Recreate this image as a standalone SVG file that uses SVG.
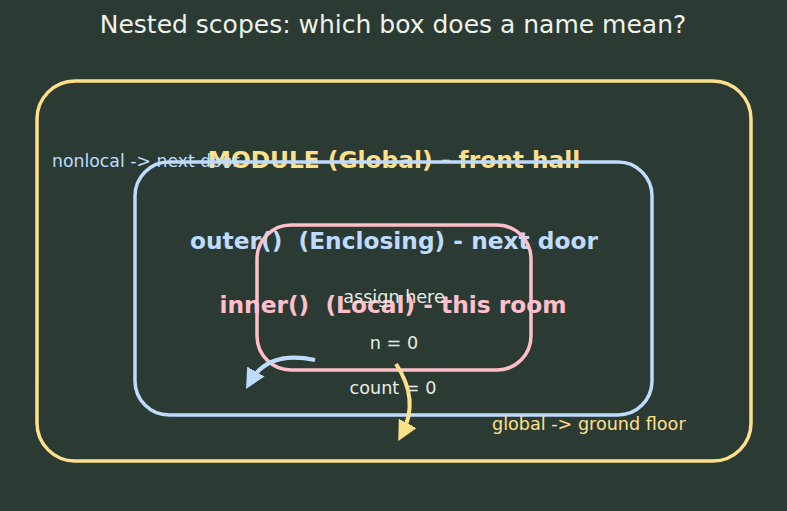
<svg xmlns="http://www.w3.org/2000/svg" width="787" height="511" viewBox="0 0 787 511">
<defs>
<style>
text{font-family:"DejaVu Sans","Liberation Sans",sans-serif;}
.box{fill:none;stroke-width:3.5;}
.h{font-weight:bold;font-size:23.3px;text-anchor:middle;}
.s{font-size:17.6px;fill:#e8ece4;}
.c{text-anchor:middle;}
</style>
<marker id="ab" viewBox="0 0 10 10" refX="6" refY="5" markerWidth="5" markerHeight="5" orient="auto" markerUnits="strokeWidth"><path d="M0,0 L10,5 L0,10 z" fill="#bfdcff"/></marker>
<marker id="ay" viewBox="0 0 10 10" refX="6" refY="5" markerWidth="5" markerHeight="5" orient="auto" markerUnits="strokeWidth"><path d="M0,0 L10,5 L0,10 z" fill="#ffe08a"/></marker>
</defs>
<rect width="787" height="511" fill="#2b3b34"/>
<text x="393" y="33" font-size="25" fill="#eef2ea" text-anchor="middle">Nested scopes: which box does a name mean?</text>
<g id="module">
<rect class="box" x="37" y="81" width="714" height="380" rx="38" stroke="#ffe08a"/>
<text class="h" x="394" y="168" fill="#ffe08a">MODULE (Global) - front hall</text>
</g>
<g id="outer">
<rect class="box" x="135" y="162" width="517" height="253" rx="34" stroke="#bfdcff"/>
<text class="h" x="394" y="249" fill="#bfdcff" xml:space="preserve">outer()  (Enclosing) - next door</text>
<text class="s c" x="393" y="394">count = 0</text>
</g>
<g id="inner">
<rect class="box" x="257" y="225" width="274" height="145" rx="34" stroke="#ffc0cb"/>
<text class="h" x="393" y="313" fill="#ffc0cb" xml:space="preserve">inner()  (Local) - this room</text>
<text class="s c" x="394" y="303" font-size="16.6">assign here</text>
<text class="s c" x="394" y="349">n = 0</text>
</g>
<g id="connectors">
<path d="M315,360 Q268,350 250,382" fill="none" stroke="#bfdcff" stroke-width="4" marker-end="url(#ab)"/>
<path d="M396,364 Q420,400 402,434" fill="none" stroke="#ffe08a" stroke-width="4" marker-end="url(#ay)"/>
<text x="52" y="167" font-size="17.3" fill="#bfdcff">nonlocal -&gt; next door</text>
<text x="492" y="430" font-size="17.6" fill="#ffe08a">global -&gt; ground floor</text>
</g>
</svg>
